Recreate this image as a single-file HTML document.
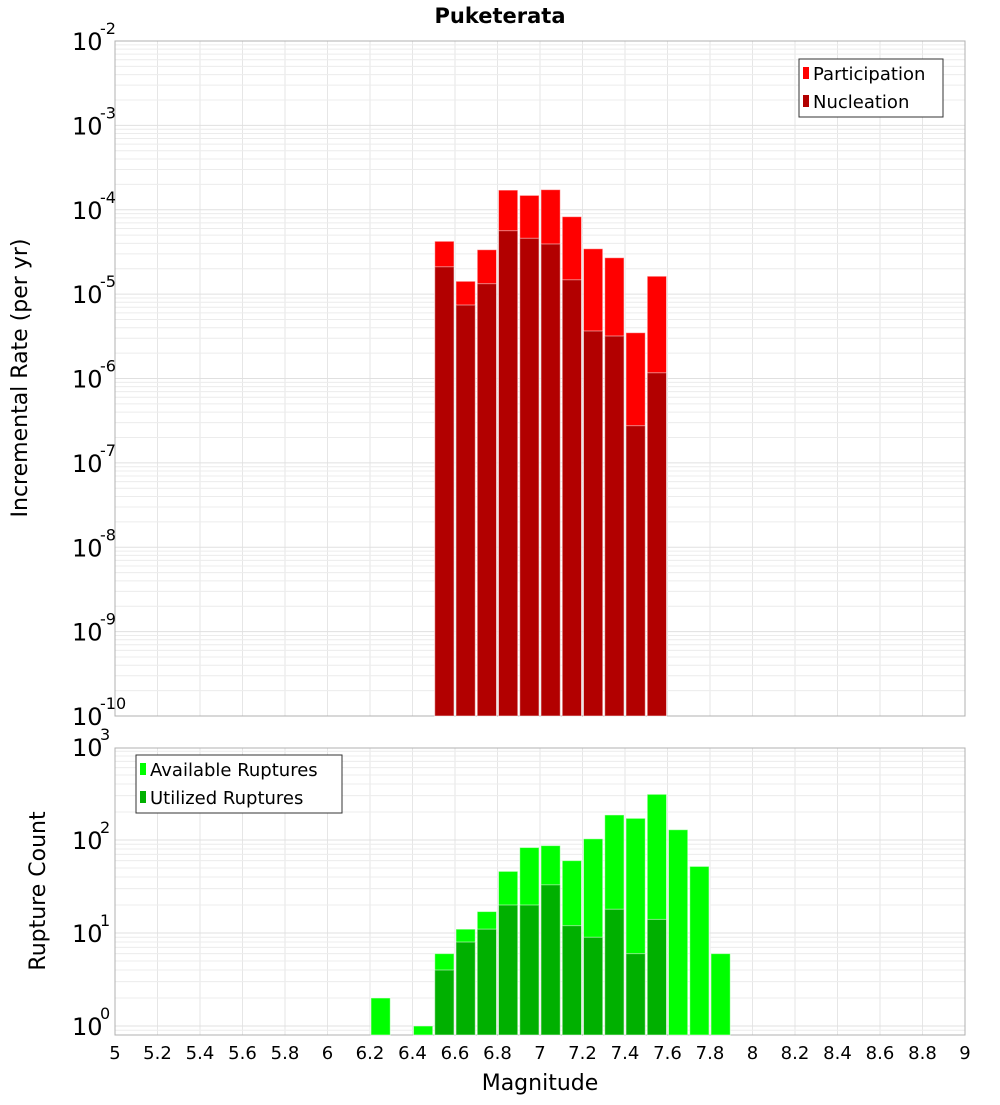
<!DOCTYPE html>
<html><head><meta charset="utf-8"><style>
body{margin:0;background:#fff;font-family:"Liberation Sans","DejaVu Sans",sans-serif}
svg text{font-family:"DejaVu Sans","Liberation Sans",sans-serif}
</style></head><body>
<svg id="c" width="1000" height="1100" xmlns="http://www.w3.org/2000/svg">
<text x="500" y="23" text-anchor="middle" font-size="21" font-weight="bold">Puketerata</text>
<text transform="translate(27,378) rotate(-90)" text-anchor="middle" font-size="22">Incremental Rate (per yr)</text>
<text transform="translate(45,891) rotate(-90)" text-anchor="middle" font-size="22">Rupture Count</text>
<text x="540" y="1090" text-anchor="middle" font-size="22">Magnitude</text>
<g id="top"></g><g id="bot"></g>
</svg>
<script>
const mags=[6.5,6.6,6.7,6.8,6.9,7.0,7.1,7.2,7.3,7.4,7.5];
const participation=[4.23e-5,1.42e-5,3.36e-5,1.71e-4,1.48e-4,1.73e-4,8.28e-5,3.45e-5,2.70e-5,3.49e-6,1.63e-5];
const nucleation=[2.11e-5,7.43e-6,1.33e-5,5.65e-5,4.59e-5,3.93e-5,1.48e-5,3.66e-6,3.19e-6,2.76e-7,1.17e-6];
const countMags=[6.2,6.4,6.5,6.6,6.7,6.8,6.9,7.0,7.1,7.2,7.3,7.4,7.5,7.6,7.7,7.8];
const available=[2,1,6,11,17,46,83,87,60,103,186,171,310,129,52,6];
const utilized=[0,0,4,8,11,20,20,33,12,9,18,6,14,0,0,0];
const xTicks=[5,5.2,5.4,5.6,5.8,6,6.2,6.4,6.6,6.8,7,7.2,7.4,7.6,7.8,8,8.2,8.4,8.6,8.8,9];
const topExps=[-10,-9,-8,-7,-6,-5,-4,-3,-2];
const botExps=[0,1,2,3];

const NS="http://www.w3.org/2000/svg";
const L=115,R=965;
const x=m=>L+(m-5)*(R-L)/4;
const yT=v=>41+(-2-Math.log10(v))*84.375;
const yB=v=>1026-Math.log10(v)*93;
function mk(p,t,a){const e=document.createElementNS(NS,t);for(const k in a)e.setAttribute(k,a[k]);p.appendChild(e);return e;}
const svg=document.getElementById('c');
function panel(g,top,bot,yf,exps,lo,hi,name){
  for(const t of xTicks){const l=mk(g,'line',{x1:x(t),x2:x(t),y1:top,y2:bot,stroke:'#e6e6e6'});
  
  }
  for(let e=lo;e<=hi;e++)for(let k=1;k<10;k++){const v=k*Math.pow(10,e);const yy=yf(v);if(yy<top-0.5||yy>bot+0.5)continue;
    const l=mk(g,'line',{x1:L,x2:R,y1:yy,y2:yy,stroke:k==1?'#e0e0e0':'#ececec'});
    
    }
  const f=mk(g,'rect',{x:L,y:top,width:R-L,height:bot-top,fill:'none',stroke:'#b0b0b0'});
  
  
  for(const e of exps){const yy=yf(Math.pow(10,e));
    const t=mk(g,'text',{x:72,y:yy+9,'font-size':24});t.textContent='10';
    
    
    const s=mk(g,'text',{x:100,y:yy-7,'font-size':16});s.textContent=String(e);
    
    }
}
const gt=document.getElementById('top'),gb=document.getElementById('bot');
panel(gt,41,716,yT,topExps,-10,-2,'top');
panel(gb,748,1035,yB,botExps,-1,3,'bottom');
function bar(g,m,v,yf,base,col,name){if(!v)return;const y0=yf(v);
  const r=mk(g,'rect',{x:x(m)+1,y:y0,width:x(m+0.1)-x(m)-2,height:base-y0,fill:col,stroke:'#ffffff','stroke-opacity':0.5,'stroke-width':1});
  
  }
mags.forEach((m,i)=>bar(gt,m,participation[i],yT,716,'#ff0000','participation-bar'));
mags.forEach((m,i)=>bar(gt,m,nucleation[i],yT,716,'#b20000','nucleation-bar'));
countMags.forEach((m,i)=>bar(gb,m,available[i],yB,1035,'#00ff00','available-bar'));
countMags.forEach((m,i)=>bar(gb,m,utilized[i],yB,1035,'#00b000','utilized-bar'));
for(const t of xTicks){const tx=mk(svg,'text',{x:x(t),y:1059,'text-anchor':'middle','font-size':18});tx.textContent=String(t);
  
  }
function legend(g,lx,ly,w,items,name){const b=mk(g,'rect',{x:lx,y:ly,width:w,height:58,fill:'#fff',stroke:'#333'});
  
  
  items.forEach((it,i)=>{const r=mk(g,'rect',{x:lx+4,y:ly+8+i*28,width:6,height:12,fill:it[1]});
    
    
    const t=mk(g,'text',{x:lx+14,y:ly+21+i*28,'font-size':18});t.textContent=it[0];
    
    });}
legend(gt,799,59,144,[['Participation','#ff0000'],['Nucleation','#b20000']],'top-legend');
legend(gb,136,755,206,[['Available Ruptures','#00ff00'],['Utilized Ruptures','#00b000']],'bottom-legend');
</script>
</body></html>
